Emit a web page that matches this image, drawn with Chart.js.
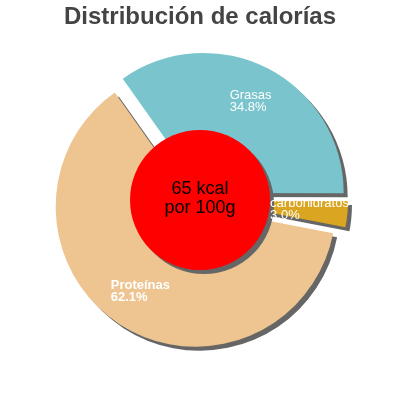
<!DOCTYPE html>
<html>
<head>
<meta charset="utf-8">
<script src="https://cdn.jsdelivr.net/npm/chart.js@4.4.0/dist/chart.umd.min.js"></script>
<style>
  html, body { margin: 0; padding: 0; background: #fff; }
  #wrap { width: 400px; height: 400px; }
</style>
</head>
<body>
<div id="wrap"><canvas id="chart"></canvas></div>
<script>
// Data
const categories = ['Grasas', 'carbohidratos', 'Proteínas'];
const percentages = [34.8, 3.0, 62.1];
const energyKcal = 65;
const centerLines = [energyKcal + ' kcal', 'por 100g'];

// Styling
const sliceColors = ['#7AC5CD', '#DAA520', '#EEC591'];
const labelWeights = ['normal', 'normal', 'bold'];
const EXPLODE = 8;          // px each slice is pushed out along its mid-angle
const SHADOW = { color: '#666666', dx: 4, dy: 4 };
const HOLE_RADIUS = 70;     // red centre disc
const LABEL_DIST = 110;     // label centre distance from pie centre

function applyShadow(ctx) {
    ctx.shadowColor = SHADOW.color;
    ctx.shadowOffsetX = SHADOW.dx;
    ctx.shadowOffsetY = SHADOW.dy;
    ctx.shadowBlur = 0;
}

// Draw the pie slices exploded and with a hard drop shadow
const explodedSlices = {
    id: 'explodedSlices',
    beforeDatasetsDraw(chart) {
        const ctx = chart.ctx;
        const arcs = chart.getDatasetMeta(0).data;
        ctx.save();
        applyShadow(ctx);
        arcs.forEach(arc => {
            const mid = (arc.startAngle + arc.endAngle) / 2;
            ctx.save();
            ctx.translate(Math.cos(mid) * EXPLODE, Math.sin(mid) * EXPLODE);
            arc.draw(ctx);
            ctx.restore();
        });
        ctx.restore();
        return false;
    },
    afterDraw(chart) {
        const ctx = chart.ctx;
        const arcs = chart.getDatasetMeta(0).data;
        if (!arcs.length) return;
        const cx = arcs[0].x;
        const cy = arcs[0].y;

        // centre disc
        ctx.save();
        applyShadow(ctx);
        ctx.fillStyle = '#FF0000';
        ctx.beginPath();
        ctx.arc(cx, cy, HOLE_RADIUS, 0, Math.PI * 2);
        ctx.fill();
        ctx.restore();

        // centre text
        ctx.save();
        ctx.fillStyle = '#000';
        ctx.font = '18px "Liberation Sans", Arial, sans-serif';
        ctx.textAlign = 'center';
        ctx.textBaseline = 'middle';
        ctx.fillText(centerLines[0], cx, cy - 11);
        ctx.fillText(centerLines[1], cx, cy + 8);
        ctx.restore();

        // slice labels
        ctx.save();
        ctx.fillStyle = '#fff';
        ctx.textAlign = 'left';
        ctx.textBaseline = 'middle';
        arcs.forEach((arc, i) => {
            const mid = (arc.startAngle + arc.endAngle) / 2;
            const px = cx + Math.cos(mid) * LABEL_DIST;
            const py = cy + Math.sin(mid) * LABEL_DIST;
            const lines = [categories[i], percentages[i].toFixed(1) + '%'];
            ctx.font = labelWeights[i] + ' 13px "Liberation Sans", Arial, sans-serif';
            const w = Math.max(...lines.map(t => ctx.measureText(t).width));
            ctx.fillText(lines[0], px - w / 2, py - 7);
            ctx.fillText(lines[1], px - w / 2, py + 5);
        });
        ctx.restore();
    }
};

const titleSize = 24;
const titleTop = 3;
const titleHeight = titleSize * 1.2 + titleTop;

new Chart(document.getElementById('chart'), {
    type: 'pie',
    data: {
        labels: categories,
        datasets: [{
            data: percentages,
            backgroundColor: sliceColors,
            borderWidth: 0
        }]
    },
    options: {
        responsive: true,
        maintainAspectRatio: false,
        animation: false,
        events: [],
        radius: 140,
        rotation: -35.3,
        layout: {
            padding: { bottom: titleHeight }
        },
        plugins: {
            legend: { display: false },
            tooltip: { enabled: false },
            title: {
                display: true,
                text: 'Distribución de calorías',
                color: '#444444',
                font: { family: '"Liberation Sans", Arial, sans-serif', size: titleSize, weight: 'bold' },
                padding: { top: titleTop, bottom: 0 }
            }
        }
    },
    plugins: [explodedSlices]
});
</script>
</body>
</html>
